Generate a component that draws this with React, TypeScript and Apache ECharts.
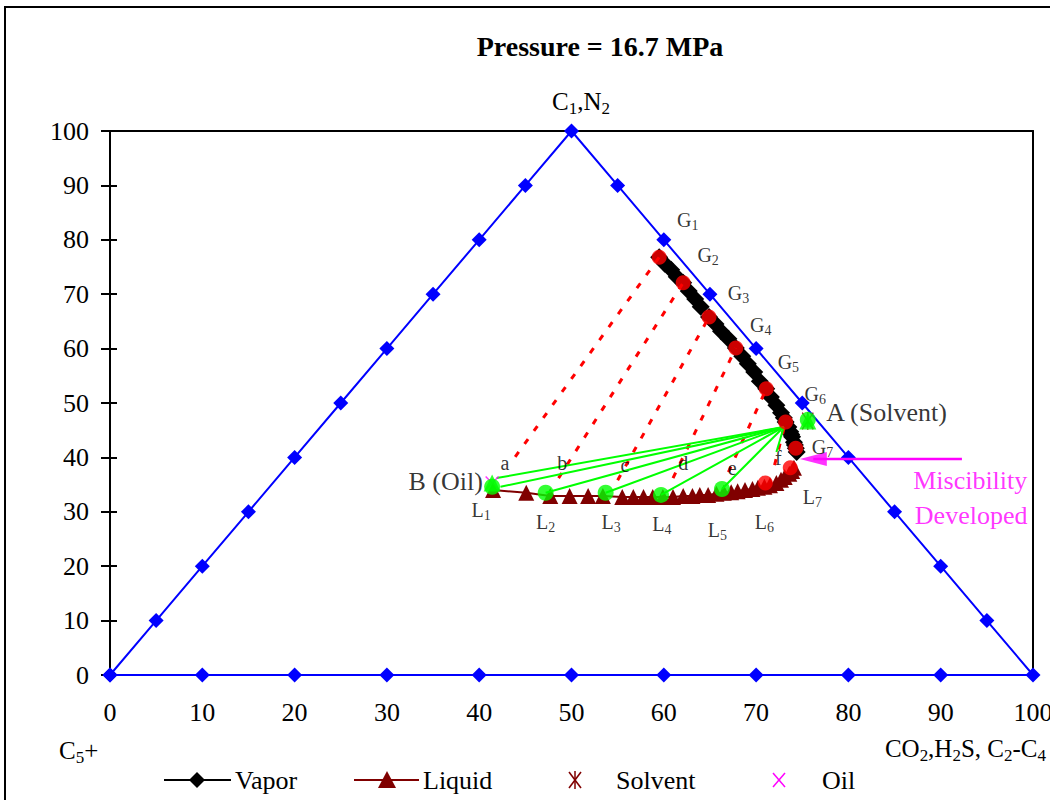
import { useEffect, useRef } from 'react';
import * as echarts from 'echarts';

const FONT = '"Liberation Serif", "Times New Roman", serif';

// Triangle edges (ternary frame)
const triangleEdge: [number, number][] = [
  [0, 0], [5, 10], [10, 20], [15, 30], [20, 40], [25, 50], [30, 60], [35, 70], [40, 80], [45, 90], [50, 100],
  [55, 90], [60, 80], [65, 70], [70, 60], [75, 50], [80, 40], [85, 30], [90, 20], [95, 10], [100, 0],
  [90, 0], [80, 0], [70, 0], [60, 0], [50, 0], [40, 0], [30, 0], [20, 0], [10, 0], [0, 0],
];

// Vapor (dew) curve
const vapor: [number, number][] = [
  [59.5, 76.8], [60.1, 75.6], [60.8, 74.5], [61.4, 73.2], [62.1, 72.1], [62.7, 70.6], [63.4, 69.1],
  [64.0, 67.7], [64.9, 65.8], [65.6, 64.5], [66.2, 63.2], [67.0, 61.8], [67.8, 60.1], [68.5, 58.6],
  [69.1, 57.2], [69.8, 55.7], [70.4, 54.0], [71.1, 52.6], [71.6, 51.1], [72.2, 49.6], [72.7, 48.2],
  [73.0, 47.3], [73.2, 46.5], [73.5, 45.6], [73.7, 44.7], [73.8, 44.2], [73.9, 43.8], [74.1, 42.8],
  [74.2, 42.3], [74.3, 41.7], [74.4, 41.0],
];

// Liquid (bubble) curve
const liquid: [number, number][] = [
  [41.5, 34.0], [45.1, 33.5], [47.7, 32.9], [49.8, 32.9], [51.8, 32.9], [53.4, 32.9], [55.5, 32.7],
  [56.7, 32.7], [57.8, 32.7], [58.8, 32.7], [59.9, 32.7], [61.0, 32.7], [62.1, 32.9], [63.1, 32.9],
  [63.9, 33.1], [64.8, 33.1], [65.7, 33.3], [66.5, 33.5], [67.3, 33.6], [68.0, 33.8], [68.8, 34.0],
  [69.6, 34.2], [70.2, 34.4], [70.9, 34.6], [71.5, 34.9], [72.2, 35.3], [72.7, 35.9], [73.1, 36.4],
  [73.6, 37.0], [73.9, 37.5], [74.1, 38.1],
];

// Equilibrium gas points G1..G7 (red dots on the vapor curve)
const gPoints: [number, number][] = [
  [59.5, 76.8], [62.1, 72.1], [64.9, 65.8], [67.8, 60.1], [71.1, 52.6], [73.2, 46.5], [74.3, 41.7],
];
// Red dots on the liquid curve
const redLiquidDots: [number, number][] = [[71.0, 35.3], [73.7, 38.1]];

// Dotted tie-line lower ends (a..f)
const tieLower: [number, number][] = [
  [43.9, 40.1], [48.6, 36.2], [55.0, 35.8], [61.0, 36.2], [67.0, 37.3], [72.0, 38.6],
];

// Green mixing lines from solvent region to liquids
const greenHub: [number, number] = [73.0, 45.6];
const greenEnds: [number, number][] = [
  [41.9, 36.2], [42.3, 34.6], [47.2, 33.5], [53.7, 33.5], [59.7, 33.1], [66.3, 34.2], [72.2, 41.0],
];
const greenDots: [number, number][] = [
  [41.4, 34.6], [47.2, 33.5], [53.7, 33.5], [59.7, 33.1], [66.3, 34.2], [75.6, 46.9],
];

const solventPt: [number, number] = [75.6, 46.7];
const oilPt: [number, number] = [41.4, 35.3];

// Arrow "Miscibility developed"
const arrowTail: [number, number] = [92.3, 39.7];
const arrowHeadCenter: [number, number] = [76.2, 39.7];

// Annotation labels
const gLabelPos: [number, number][] = [
  [62.6, 83.6], [64.8, 77.2], [68.1, 70.2], [70.5, 64.3], [73.5, 57.5], [76.4, 51.7], [77.2, 41.9],
];
const lLabelPos: [number, number][] = [
  [40.2, 30.3], [47.2, 28.1], [54.3, 28.1], [59.8, 27.8], [65.8, 26.7], [70.9, 28.1], [76.1, 32.7],
];
const letterNames = ['a', 'b', 'c', 'd', 'e', 'f'];
const letterPos: [number, number][] = [
  [42.8, 39.0], [49.0, 39.0], [55.8, 38.6], [62.1, 39.0], [67.4, 38.1], [72.4, 39.9],
];
const solventLabelPos: [number, number] = [77.6, 48.2];
const oilLabelPos: [number, number] = [40.4, 35.5];
const miscLabels = ['Miscibility', 'Developed'];
const miscLabelPos: [number, number][] = [[93.2, 35.8], [93.3, 29.4]];

const legendNames = ['Vapor', 'Liquid', 'Solvent', 'Oil'];

const X_PATH = 'path://M0,1.5L1.5,0L10,8.5L18.5,0L20,1.5L11.5,10L20,18.5L18.5,20L10,11.5L1.5,20L0,18.5L8.5,10Z';
const STAR_PATH =
  'path://M9,0L11,0L11,20L9,20Z M0,1.5L1.5,0L20,18.5L18.5,20Z M18.5,0L20,1.5L1.5,20L0,18.5Z';

export default function App() {
  const ref = useRef<HTMLDivElement>(null);

  useEffect(() => {
    const chart = echarts.init(ref.current!, null, { renderer: 'svg' });

    const rich: any = {
      m: { fontSize: 20, fontFamily: FONT, color: '#000' },
      s: { fontSize: 14, fontFamily: FONT, color: '#000', padding: [11, 0, 0, 0] },
      big: { fontSize: 26, fontFamily: FONT, color: '#000' },
      mg: { fontSize: 26, fontFamily: FONT, color: '#FF00FF' },
      vm: { fontSize: 25, fontFamily: FONT, color: '#000' },
      vs: { fontSize: 17, fontFamily: FONT, color: '#000', padding: [14, 0, 0, 0] },
    };

    const labelData: any[] = [];
    gLabelPos.forEach((p, i) =>
      labelData.push({ name: `{m|G}{s|${i + 1}}`, value: p, label: { align: 'center' } })
    );
    lLabelPos.forEach((p, i) =>
      labelData.push({ name: `{m|L}{s|${i + 1}}`, value: p, label: { align: 'center' } })
    );
    letterPos.forEach((p, i) =>
      labelData.push({ name: `{m|${letterNames[i]}}`, value: p, label: { align: 'center' } })
    );
    labelData.push({ name: '{big|A (Solvent)}', value: solventLabelPos, label: { align: 'left' } });
    labelData.push({ name: '{big|B (Oil)}', value: oilLabelPos, label: { align: 'right' } });
    miscLabelPos.forEach((p, i) =>
      labelData.push({ name: `{mg|${miscLabels[i]}}`, value: p, label: { align: 'center' } })
    );

    const series: any[] = [
      {
        type: 'line', data: triangleEdge, symbol: 'diamond', symbolSize: 15,
        lineStyle: { color: '#0000FF', width: 2 }, itemStyle: { color: '#0000FF' }, z: 2,
      },
      {
        name: 'Vapor', type: 'line', data: vapor, symbol: 'diamond', symbolSize: 18,
        lineStyle: { color: '#000', width: 3 }, itemStyle: { color: '#000' }, z: 3,
      },
      {
        name: 'Liquid', type: 'line', data: liquid, symbol: 'triangle', symbolSize: 16,
        lineStyle: { color: '#800000', width: 2 }, itemStyle: { color: '#800000' }, z: 3,
      },
    ];
    tieLower.forEach((p, i) => {
      series.push({
        type: 'line', data: [p, gPoints[i]], symbol: 'none',
        lineStyle: { color: '#FF0000', width: 3, type: [6, 10] }, z: 4,
      });
    });
    greenEnds.forEach((p) => {
      series.push({
        type: 'line', data: [greenHub, p], symbol: 'none',
        lineStyle: { color: '#00FF00', width: 2 }, z: 5,
      });
    });
    series.push(
      {
        type: 'line', data: [arrowHeadCenter, arrowTail], symbol: 'none',
        lineStyle: { color: '#FF00FF', width: 2.5 }, z: 5,
      },
      {
        type: 'scatter', data: [arrowHeadCenter], symbol: 'triangle', symbolRotate: 90,
        symbolSize: [14, 27], itemStyle: { color: '#FF00FF' }, z: 6,
      },
      {
        type: 'scatter', data: [...gPoints, ...redLiquidDots], symbol: 'circle', symbolSize: 15,
        itemStyle: { color: '#FF0000' }, z: 6,
      },
      {
        name: 'Oil', type: 'scatter', data: [oilPt], symbol: X_PATH, symbolSize: 14,
        itemStyle: { color: '#FF00FF' }, z: 6,
      },
      {
        name: 'Solvent', type: 'scatter', data: [solventPt], symbol: STAR_PATH, symbolSize: [12, 18],
        itemStyle: { color: '#800000' }, z: 6,
      },
      {
        type: 'scatter', data: [solventPt, oilPt], symbol: 'triangle', symbolSize: 17,
        itemStyle: { color: '#00FF00' }, z: 7,
      },
      {
        type: 'scatter', data: greenDots, symbol: 'circle', symbolSize: 16,
        itemStyle: { color: '#00FF00' }, z: 8,
      },
      {
        type: 'scatter', data: labelData, symbolSize: 0, silent: true, z: 9,
        label: {
          show: true, position: 'inside', verticalAlign: 'middle',
          formatter: (p: any) => p.name, rich,
        },
      }
    );

    // Manual legend graphics
    const LY = 780;
    const legendGraphics: any[] = [
      { type: 'line', shape: { x1: 164, y1: LY, x2: 231, y2: LY }, style: { stroke: '#000', lineWidth: 2 } },
      { type: 'polygon', shape: { points: [[197, LY - 8], [205, LY], [197, LY + 8], [189, LY]] }, style: { fill: '#000' } },
      { type: 'line', shape: { x1: 354, y1: LY, x2: 419, y2: LY }, style: { stroke: '#800000', lineWidth: 2 } },
      { type: 'polygon', shape: { points: [[387, LY - 9], [396, LY + 8], [378, LY + 8]] }, style: { fill: '#800000' } },
      { type: 'line', shape: { x1: 575, y1: LY - 9, x2: 575, y2: LY + 9 }, style: { stroke: '#800000', lineWidth: 1.5 } },
      { type: 'line', shape: { x1: 569, y1: LY - 8, x2: 581, y2: LY + 8 }, style: { stroke: '#800000', lineWidth: 1.5 } },
      { type: 'line', shape: { x1: 581, y1: LY - 8, x2: 569, y2: LY + 8 }, style: { stroke: '#800000', lineWidth: 1.5 } },
      { type: 'line', shape: { x1: 773, y1: LY - 7, x2: 785, y2: LY + 7 }, style: { stroke: '#FF00FF', lineWidth: 1.5 } },
      { type: 'line', shape: { x1: 785, y1: LY - 7, x2: 773, y2: LY + 7 }, style: { stroke: '#FF00FF', lineWidth: 1.5 } },
    ];
    const legendTextX = [235, 423, 616, 822];
    legendNames.forEach((n, i) =>
      legendGraphics.push({
        type: 'text', x: legendTextX[i], y: LY,
        style: {
          text: n, fontSize: 26, fontFamily: FONT, fill: '#000',
          align: 'left', textAlign: 'left', verticalAlign: 'middle', textVerticalAlign: 'middle',
        },
      })
    );

    const option: any = {
      animation: false,
      backgroundColor: '#fff',
      grid: { left: 110, right: 17, top: 131, bottom: 125, containLabel: false, outerBoundsMode: 'none' },
      xAxis: [
        {
          type: 'value', min: 0, max: 100, interval: 10,
          axisLine: { show: false }, axisTick: { show: false }, splitLine: { show: false },
          axisLabel: { fontSize: 26, fontFamily: FONT, color: '#000', margin: 24 },
        },
        {
          type: 'value', position: 'top', min: 0, max: 100,
          axisLine: { show: true, onZero: false, lineStyle: { color: '#000', width: 2 } },
          axisTick: { show: false }, axisLabel: { show: false }, splitLine: { show: false },
        },
      ],
      yAxis: [
        {
          type: 'value', min: 0, max: 100, interval: 10, position: 'left',
          axisLine: { show: true, onZero: false, lineStyle: { color: '#000', width: 2 } },
          axisTick: { show: true, length: 9, lineStyle: { color: '#000', width: 2 } },
          axisLabel: { fontSize: 26, fontFamily: FONT, color: '#000', margin: 21 },
          splitLine: { show: false },
        },
        {
          type: 'value', min: 0, max: 100, interval: 10, position: 'left',
          axisLine: { show: false },
          axisTick: { show: true, inside: true, length: 7, lineStyle: { color: '#000', width: 2 } },
          axisLabel: { show: false }, splitLine: { show: false },
        },
        {
          type: 'value', min: 0, max: 100, position: 'right',
          axisLine: { show: true, onZero: false, lineStyle: { color: '#000', width: 2 } },
          axisTick: { show: false }, axisLabel: { show: false }, splitLine: { show: false },
        },
      ],
      series,
      graphic: [
        {
          type: 'rect', shape: { x: 5, y: 7, width: 1200, height: 1000 },
          style: { fill: 'none', stroke: '#000', lineWidth: 2 }, silent: true, z: 100,
        },
        {
          type: 'text', x: 600, y: 46,
          style: {
            text: 'Pressure = 16.7 MPa', fontSize: 28, fontWeight: 'bold', fontFamily: FONT, fill: '#000',
            align: 'center', textAlign: 'center', verticalAlign: 'middle', textVerticalAlign: 'middle',
          },
        },
        {
          type: 'text', x: 581, y: 101,
          style: {
            text: '{vm|C}{vs|1}{vm|,N}{vs|2}', rich,
            align: 'center', textAlign: 'center', verticalAlign: 'middle', textVerticalAlign: 'middle',
          },
        },
        {
          type: 'text', x: 59, y: 750,
          style: {
            text: '{vm|C}{vs|5}{vm|+}', rich,
            align: 'left', textAlign: 'left', verticalAlign: 'middle', textVerticalAlign: 'middle',
          },
        },
        {
          type: 'text', x: 1046, y: 748,
          style: {
            text: '{vm|CO}{vs|2}{vm|,H}{vs|2}{vm|S, C}{vs|2}{vm|-C}{vs|4}', rich,
            align: 'right', textAlign: 'right', verticalAlign: 'middle', textVerticalAlign: 'middle',
          },
        },
        ...legendGraphics,
      ],
    };

    chart.setOption(option);
    return () => chart.dispose();
  }, []);

  return (
    <div
      ref={ref}
      style={{ position: 'absolute', left: 0, top: 0, width: 1050, height: 800, background: '#fff' }}
    />
  );
}
